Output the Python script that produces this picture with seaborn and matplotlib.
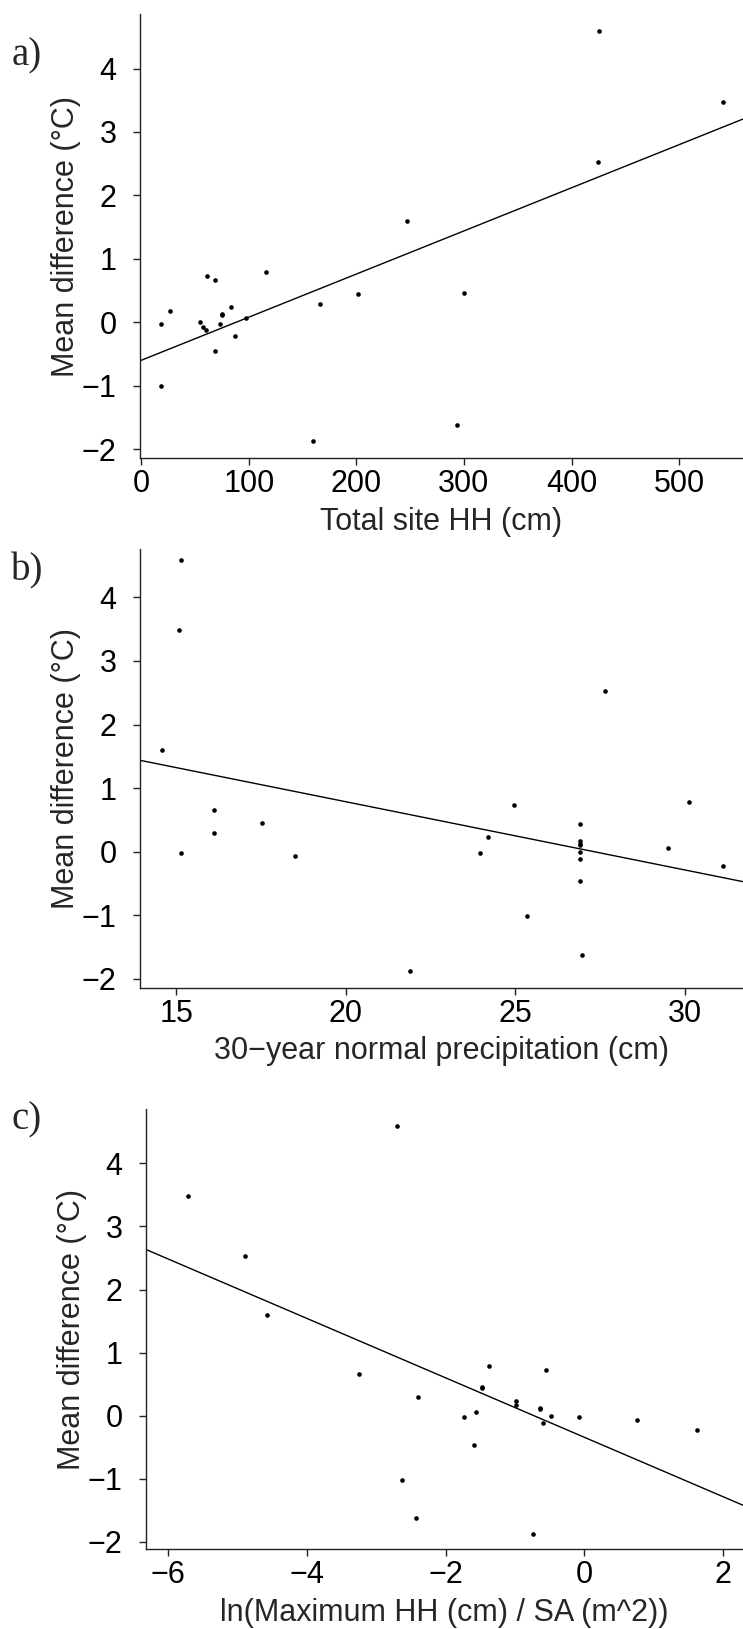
import matplotlib
matplotlib.use("Agg")
import matplotlib.pyplot as plt
import seaborn as sns
import numpy as np
import pandas as pd

# ---- data (one entry per site, same order in every array) ----
mean_diff = [4.59, 3.48, 2.53, 1.60, 0.79, 0.73, 0.66, 0.46, 0.44, 0.29,
             0.235, 0.17, 0.13, 0.11, 0.06, 0.0, -0.02, -0.025, -0.07, -0.12,
             -0.22, -0.46, -1.01, -1.88, -1.62]
total_site_hh = [426, 540.5, 425, 246.7, 115.7, 61.6, 68.5, 299.6, 201.5, 165.8,
                 83.4, 27.1, 75.3, 75.5, 97, 54.5, 72.8, 18.7, 57.8, 60.6,
                 86.8, 69, 18.7, 159.9, 294]
precip_30yr = [15.15, 15.07, 27.66, 14.59, 30.12, 24.97, 16.12, 17.53, 26.91, 16.12,
               24.21, 26.91, 26.91, 26.91, 29.51, 26.91, 15.15, 23.97, 18.49, 26.91,
               31.12, 26.91, 25.34, 21.90, 26.96]
ln_ratio = [-2.70, -5.72, -4.89, -4.57, -1.37, -0.546, -3.25, -1.47, -1.47, -2.40,
            -0.98, -0.99, -0.64, -0.64, -1.56, -0.48, -1.74, -0.075, 0.76, -0.60,
            1.63, -1.59, -2.63, -0.74, -2.43]

y_ticks = [-2, -1, 0, 1, 2, 3, 4]
xticks_a = [0, 100, 200, 300, 400, 500]
xticks_b = [15, 20, 25, 30]
xticks_c = [-6, -4, -2, 0, 2]

xlabel_a = "Total site HH (cm)"
xlabel_b = "30\u2212year normal precipitation (cm)"
xlabel_c = "ln(Maximum HH (cm) / SA (m^2))"
ylabel = "Mean difference (\u00b0C)"
panel_tags = ["a)", "b)", "c)"]

df = pd.DataFrame({"y": mean_diff, "a": total_site_hh,
                   "b": precip_30yr, "c": ln_ratio})

# ---- style ----
sns.set_style("ticks")
plt.rcParams["font.family"] = ["Liberation Sans", "DejaVu Sans"]
plt.rcParams["axes.unicode_minus"] = True

W, H = 743, 1629
fig = plt.figure(figsize=(W / 100, H / 100), dpi=100)

def add_ax(left, top, right, bottom):
    return fig.add_axes([left / W, 1 - bottom / H, (right - left) / W, (bottom - top) / H])

panels = [
    # column, ticks, xlabel, xlim, ylim, box(left, top, right, bottom), tag pos
    ("a", xticks_a, xlabel_a, (-1.1, 559.4), (-2.145, 4.86), (140, 14, 743, 458.3), (27, 56)),
    ("b", xticks_b, xlabel_b, (13.93, 31.72), (-2.137, 4.756), (140, 549.3, 743, 987.7), (27.5, 571)),
    ("c", xticks_c, xlabel_c, (-6.32, 2.29), (-2.116, 4.862), (146, 1109, 743, 1549.3), (27, 1120)),
]

for (col, xt, xl, xlim, ylim, box, tag), tagtxt in zip(panels, panel_tags):
    left, top, right, bottom = box
    ax = add_ax(*box)
    ax.set_xlim(*xlim)
    ax.set_ylim(*ylim)
    sns.regplot(data=df, x=col, y="y", ax=ax, ci=None, truncate=False,
                color="black",
                scatter_kws=dict(s=11, linewidths=0, color="black", alpha=1),
                line_kws=dict(lw=1.0, color="black"))
    ax.set_xlim(*xlim)
    ax.set_ylim(*ylim)
    ax.set_xticks(xt)
    ax.set_yticks(y_ticks)
    for s in ["top", "right"]:
        ax.spines[s].set_visible(False)
    for s in ["left", "bottom"]:
        ax.spines[s].set_linewidth(1.0)
        ax.spines[s].set_color("#222222")
    ax.tick_params(axis="both", direction="out", length=4.8, width=1.0,
                   color="#222222", labelsize=22, labelcolor="black")
    ax.tick_params(axis="y", pad=12)
    ax.tick_params(axis="x", pad=3)
    ax.set_xlabel(xl, fontsize=22, va="center")
    ax.set_ylabel(ylabel, fontsize=22, va="center")
    wpx = right - left
    hpx = bottom - top
    ax.xaxis.set_label_coords(0.5, -63.6 / hpx)
    ax.yaxis.set_label_coords(-74 / wpx, 0.5)
    fig.text(tag[0] / W, 1 - tag[1] / H, tagtxt, ha="center", va="center",
             fontsize=28, family=["Liberation Serif", "DejaVu Serif"])

fig.savefig("out.png", dpi=100, facecolor="white")
